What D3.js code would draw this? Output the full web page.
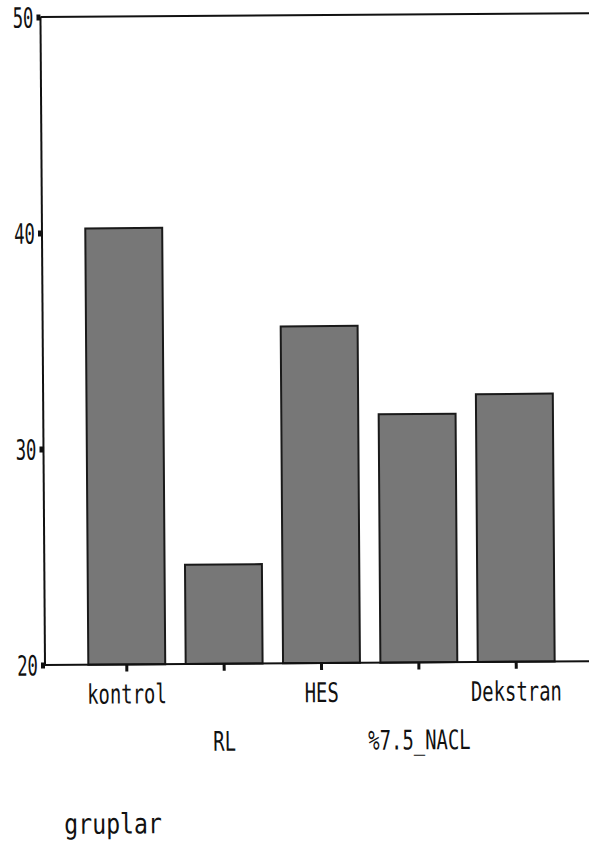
<!DOCTYPE html>
<html>
<head>
<meta charset="utf-8">
<script src="https://cdn.jsdelivr.net/npm/d3@7"></script>
<style>
  html, body { margin: 0; padding: 0; background: #fff; }
  svg { display: block; }
  text { font-family: "DejaVu Sans Mono", "Liberation Mono", monospace; fill: #111; }
</style>
</head>
<body>
<svg id="chart" width="589" height="860"></svg>
<script>
const categories = ["kontrol", "RL", "HES", "%7.5_NACL", "Dekstran"];
const values = [40.2, 24.6, 35.6, 31.5, 32.4];
const yTicks = [20, 30, 40, 50];
const xTitle = "gruplar";

(function() {
const svg = d3.select("#chart");
const W = 589;
const mLeft = 45, mBottom = 665, mTop = 17, mRight = 598;

const g = svg.append("g").attr("transform", `rotate(-0.4, ${mLeft}, ${mBottom})`);

const x = d3.scaleBand().domain(categories).range([mLeft, mRight])
  .paddingInner(0.21).paddingOuter(0.445);
const y = d3.scaleLinear().domain([20, 50]).range([mBottom, mTop]);

g.selectAll("rect.bar").data(values).join("rect")
  .attr("class", "bar")
  .attr("x", (d, i) => x(categories[i]))
  .attr("width", x.bandwidth())
  .attr("y", d => y(d))
  .attr("height", d => y(20) - y(d))
  .attr("fill", "#777777")
  .attr("stroke", "#1a1a1a")
  .attr("stroke-width", 2);

g.append("line").attr("x1", mLeft).attr("x2", W + 10)
  .attr("y1", y(50)).attr("y2", y(50))
  .attr("stroke", "#111").attr("stroke-width", 2);

const yAxis = d3.axisLeft(y).tickValues(yTicks).tickSize(4).tickFormat(d3.format("d"));
const ya = g.append("g").attr("transform", `translate(${mLeft},0)`).call(yAxis);
ya.select(".domain").attr("stroke", "#111").attr("stroke-width", 2)
  .attr("d", `M0,${y(20)}V${y(50)}`);
ya.selectAll(".tick line").attr("stroke", "#111").attr("stroke-width", 6);
ya.selectAll(".tick text").each(function() {
  d3.select(this).attr("x", null).attr("dy", null)
   .attr("text-anchor", "end")
   .attr("font-size", 28)
   .attr("transform", "translate(-7,10) scale(0.62,1)");
});

const xAxis = d3.axisBottom(x).tickSize(7).tickSizeOuter(0);
const xa = g.append("g").attr("transform", `translate(0,${mBottom})`).call(xAxis);
xa.select(".domain").attr("stroke", "#111").attr("stroke-width", 2)
  .attr("d", `M${mLeft},0H${W + 10}`);
xa.selectAll(".tick line").attr("stroke", "#111").attr("stroke-width", 3);
xa.selectAll(".tick text").each(function(d, i) {
  const dy = (i % 2 === 0) ? 39 : 87;
  d3.select(this).attr("y", null).attr("dy", null)
   .attr("text-anchor", "middle")
   .attr("font-size", 27)
   .attr("transform", `translate(0,${dy}) scale(0.7,1)`);
});

g.append("text").attr("x", 0).attr("y", 0)
  .attr("font-size", 28)
  .attr("transform", "translate(63,834) scale(0.83,1)")
  .text(xTitle);

svg.selectAll(".tick text").attr("fill", "#111").attr("font-family", '"DejaVu Sans Mono", monospace');
})();
</script>
</body>
</html>
